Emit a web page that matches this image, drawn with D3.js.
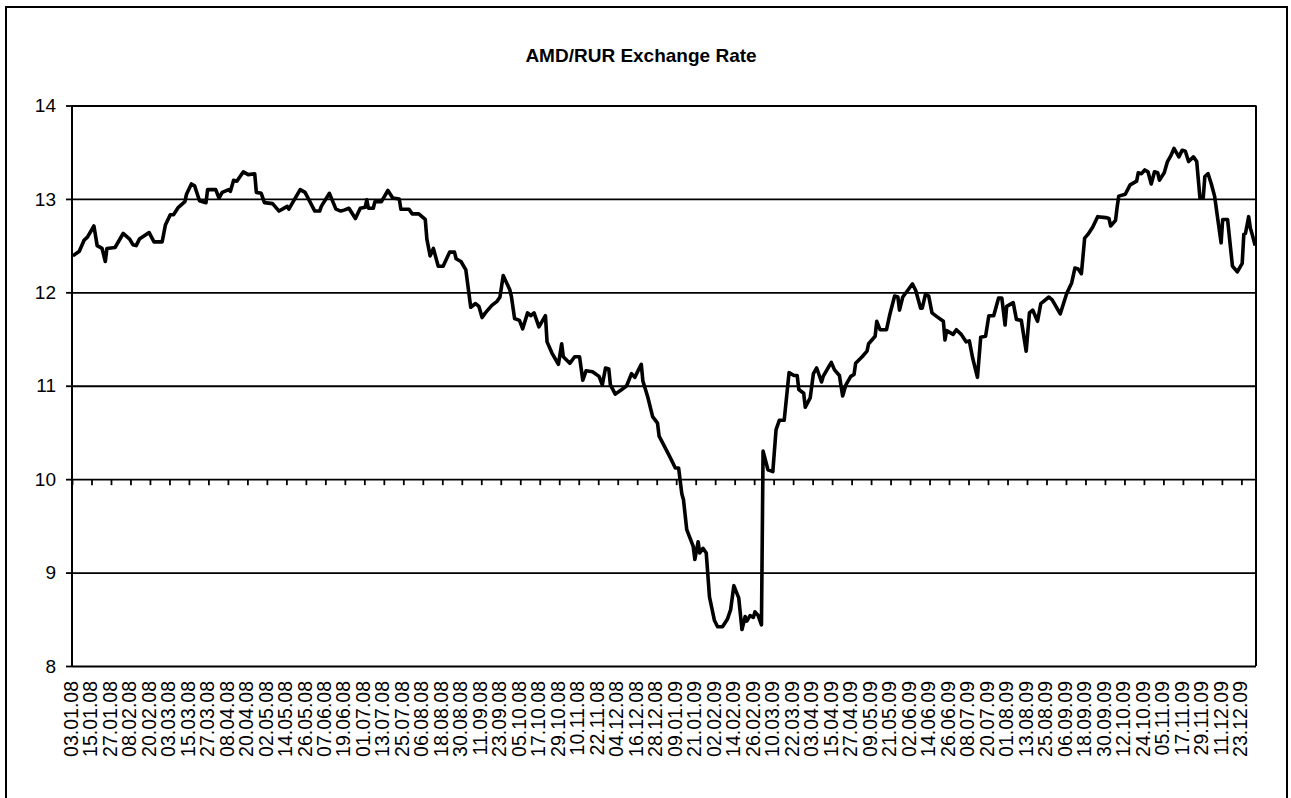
<!DOCTYPE html>
<html>
<head>
<meta charset="utf-8">
<script src="https://cdn.jsdelivr.net/npm/d3@7"></script>
<style>
  body { margin: 0; background: #fff; }
  svg { display: block; font-family: Arial, "Liberation Sans", sans-serif; }
</style>
</head>
<body>
<div id="chart"></div>
<script>
// Day number counted from 03.01.08 (day 0) to 31.12.09 (day 728)
var days = [0,4,7,9,13,15,18,20,21,26,31,35,37,39,41,47,50,55,57,60,62,65,69,70,73,75,78,82,83,88,90,92,96,97,99,101,105,108,112,113,116,118,123,127,132,133,140,143,149,152,153,158,162,165,167,170,174,177,180,181,182,185,186,190,194,197,201,202,207,209,213,217,218,220,222,225,228,232,235,236,239,242,245,248,250,252,254,258,261,263,265,269,270,272,275,277,280,282,284,287,291,292,295,299,301,302,306,309,312,314,316,320,324,326,328,330,331,334,338,341,344,346,350,351,354,357,360,361,367,371,373,375,376,378,382,383,385,386,388,390,392,395,397,400,403,405,407,410,412,414,415,417,419,420,422,424,425,428,431,433,435,438,441,444,446,447,450,451,454,456,458,461,462,467,469,472,474,476,479,481,482,486,489,490,494,495,497,501,503,506,508,509,511,514,517,519,522,523,525,527,529,532,536,537,538,542,544,547,550,552,554,557,559,562,564,567,570,572,574,575,579,581,584,587,589,591,594,596,601,603,608,612,615,617,619,621,623,625,628,631,636,638,639,642,643,644,648,651,655,656,658,660,662,664,666,668,669,672,674,676,678,681,683,685,687,690,692,694,696,697,699,701,703,705,707,708,711,714,717,720,721,722,724,725,726,728];

// AMD per RUR
var rates = [12.39,12.44,12.56,12.59,12.71,12.50,12.47,12.33,12.47,12.48,12.63,12.57,12.51,12.50,12.57,12.64,12.54,12.54,12.72,12.83,12.83,12.91,12.97,13.05,13.16,13.14,12.98,12.96,13.10,13.10,13.01,13.07,13.10,13.08,13.20,13.19,13.29,13.26,13.27,13.07,13.06,12.96,12.95,12.87,12.92,12.89,13.10,13.07,12.87,12.87,12.92,13.06,12.89,12.87,12.88,12.90,12.79,12.90,12.91,12.99,12.90,12.90,12.97,12.97,13.09,13.01,13.00,12.89,12.89,12.84,12.84,12.78,12.57,12.39,12.47,12.28,12.28,12.43,12.43,12.36,12.33,12.24,11.84,11.88,11.85,11.73,11.78,11.86,11.90,11.95,12.18,12.03,11.96,11.72,11.70,11.61,11.78,11.75,11.78,11.63,11.75,11.47,11.35,11.23,11.45,11.31,11.24,11.31,11.31,11.06,11.16,11.15,11.10,11.01,11.19,11.18,11.01,10.91,10.96,11.00,11.13,11.09,11.23,11.05,10.88,10.67,10.60,10.46,10.26,10.12,10.12,9.84,9.78,9.46,9.28,9.14,9.33,9.21,9.26,9.21,8.74,8.49,8.42,8.42,8.50,8.60,8.86,8.73,8.39,8.53,8.48,8.54,8.52,8.58,8.54,8.44,10.30,10.10,10.08,10.53,10.63,10.63,11.14,11.11,11.11,10.96,10.92,10.77,10.87,11.13,11.19,11.04,11.10,11.25,11.17,11.11,10.89,11.01,11.10,11.12,11.24,11.31,11.37,11.45,11.53,11.69,11.60,11.60,11.76,11.96,11.95,11.81,11.95,12.02,12.09,12.02,11.83,11.83,11.98,11.96,11.78,11.74,11.69,11.49,11.59,11.55,11.60,11.55,11.47,11.48,11.30,11.09,11.52,11.53,11.75,11.75,11.94,11.94,11.65,11.85,11.89,11.71,11.70,11.37,11.78,11.81,11.69,11.88,11.95,11.92,11.77,11.99,12.10,12.26,12.25,12.20,12.58,12.62,12.70,12.81,12.80,12.79,12.71,12.77,12.91,13.03,13.05,13.15,13.19,13.28,13.27,13.31,13.29,13.16,13.29,13.28,13.20,13.28,13.40,13.46,13.54,13.45,13.52,13.51,13.40,13.45,13.40,13.01,13.01,13.24,13.27,13.16,13.03,12.78,12.53,12.78,12.78,12.28,12.22,12.31,12.62,12.63,12.81,12.69,12.63,12.50];

// Category labels, one every 12 days
var tickLabels = ["03.01.08","15.01.08","27.01.08","08.02.08","20.02.08","03.03.08","15.03.08","27.03.08","08.04.08","20.04.08","02.05.08","14.05.08","26.05.08","07.06.08","19.06.08","01.07.08","13.07.08","25.07.08","06.08.08","18.08.08","30.08.08","11.09.08","23.09.08","05.10.08","17.10.08","29.10.08","10.11.08","22.11.08","04.12.08","16.12.08","28.12.08","09.01.09","21.01.09","02.02.09","14.02.09","26.02.09","10.03.09","22.03.09","03.04.09","15.04.09","27.04.09","09.05.09","21.05.09","02.06.09","14.06.09","26.06.09","08.07.09","20.07.09","01.08.09","13.08.09","25.08.09","06.09.09","18.09.09","30.09.09","12.10.09","24.10.09","05.11.09","17.11.09","29.11.09","11.12.09","23.12.09"];

var yTicks = [8, 9, 10, 11, 12, 13, 14];

var W = 1291, H = 798;
var plot = {left: 72, right: 1256, top: 105.5, bottom: 666};

var svg = d3.select("#chart")
    .append("svg")
    .attr("width", W)
    .attr("height", H);

// Outer chart border
svg.append("rect")
    .attr("x", 6)
    .attr("y", 7)
    .attr("width", 1281)
    .attr("height", 820)
    .attr("fill", "none")
    .attr("stroke", "#000")
    .attr("stroke-width", 2);

// Title
svg.append("text")
    .attr("x", 641)
    .attr("y", 62)
    .attr("text-anchor", "middle")
    .style("font-size", "19px")
    .style("font-weight", "bold")
    .text("AMD/RUR Exchange Rate");

// Scales
var x = d3.scaleLinear()
    .domain([-0.5, 728.5])
    .range([plot.left, plot.right]);

var y = d3.scaleLinear()
    .domain([8, 14])
    .range([plot.bottom, plot.top]);

// Horizontal gridlines with the left ticks
svg.append("g")
    .attr("transform", "translate(" + plot.left + ",0)")
    .call(d3.axisLeft(y).tickValues(yTicks).tickSize(6).tickFormat(d3.format("d")))
    .call(function(g) {
        g.select(".domain").remove();
        g.selectAll(".tick line").attr("stroke", "#000").attr("stroke-width", 1.8);
        g.selectAll(".tick text")
            .attr("x", -16)
            .style("font-size", "19px")
            .style("font-family", "Arial, 'Liberation Sans', sans-serif")
            .attr("fill", "#000");
        g.selectAll(".tick").append("line")
            .attr("x1", 0)
            .attr("x2", plot.right - plot.left)
            .attr("stroke", "#000")
            .attr("stroke-width", 1.8);
    });

// Plot area left and right edges
svg.append("line")
    .attr("x1", plot.left).attr("x2", plot.left)
    .attr("y1", plot.top).attr("y2", plot.bottom)
    .attr("stroke", "#000").attr("stroke-width", 2);
svg.append("line")
    .attr("x1", plot.right).attr("x2", plot.right)
    .attr("y1", plot.top).attr("y2", plot.bottom)
    .attr("stroke", "#000").attr("stroke-width", 2);

// Category axis crosses at 10: tick marks between label groups
var tickDays = d3.range(0, 61).map(function(k) { return k * 12 - 0.5; });
svg.append("g")
    .attr("transform", "translate(0," + y(10) + ")")
    .call(d3.axisBottom(x).tickValues(tickDays).tickSize(6).tickFormat(""))
    .call(function(g) {
        g.select(".domain").remove();
        g.selectAll(".tick line").attr("stroke", "#000").attr("stroke-width", 1.8);
    });

// Date labels at the bottom
svg.append("g")
    .selectAll("text")
    .data(tickLabels)
    .enter()
    .append("text")
    .attr("transform", function(d, i) {
        return "translate(" + (x(i * 12) - 2) + "," + (plot.bottom + 15) + ") rotate(-90)";
    })
    .attr("dy", "0.35em")
    .attr("text-anchor", "end")
    .style("font-size", "19.5px")
    .text(function(d) { return d; });

// Rate line
var line = d3.line()
    .x(function(d, i) { return x(days[i]); })
    .y(function(d) { return y(d); });

svg.append("path")
    .datum(rates)
    .attr("fill", "none")
    .attr("stroke", "#000")
    .attr("stroke-width", 3.6)
    .attr("stroke-linejoin", "round")
    .attr("d", line);
</script>
</body>
</html>
